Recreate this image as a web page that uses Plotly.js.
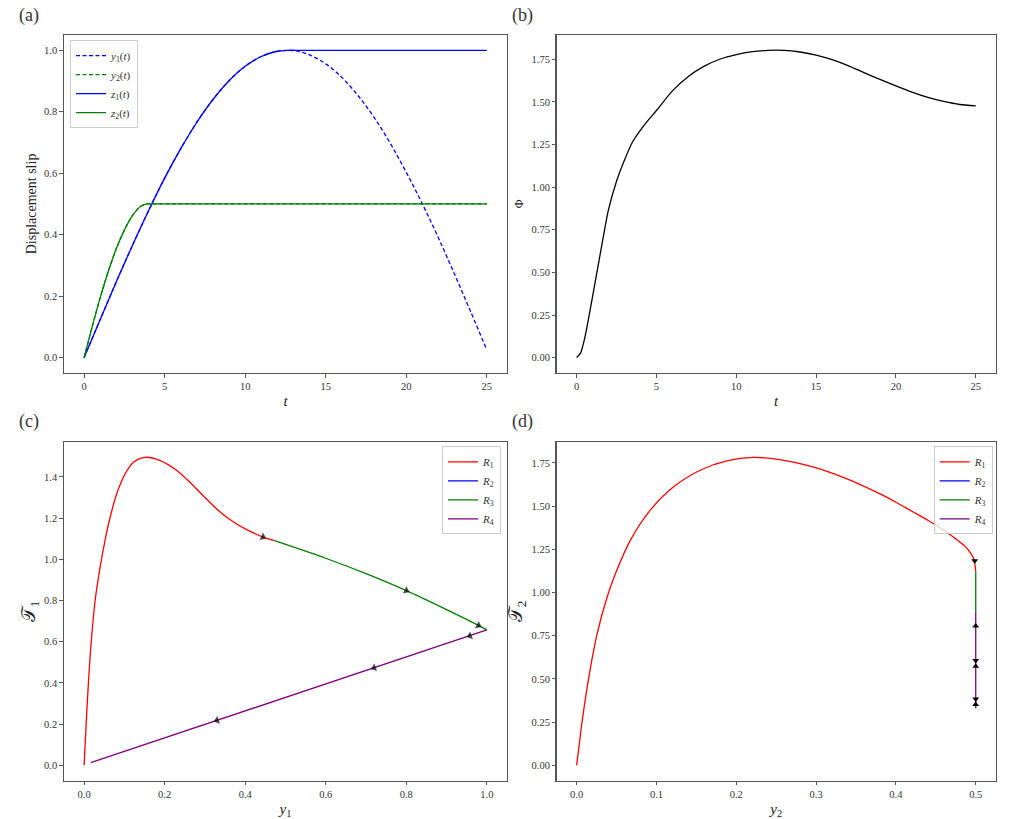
<!DOCTYPE html>
<html>
<head>
<meta charset="utf-8">
<script src="https://cdn.plot.ly/plotly-3.0.1.min.js"></script>
<style>html,body{margin:0;padding:0;background:#fff;}#chart{width:1025px;height:819px;}</style>
</head>
<body>
<div id="chart"></div>
<script>
// ---- Panel (a): displacement slip vs t ----
const tY1 = [0,1,2,3,4,5,6,7,8,9,10,11,12,13,14,15,16,17,18,19,20,21,22,23,24,25];
const y1 = [0,0.124,0.247,0.365,0.478,0.584,0.68,0.766,0.84,0.901,0.948,0.98,0.997,0.999,0.985,0.956,0.912,0.853,0.782,0.698,0.603,0.5,0.389,0.271,0.149,0.025];
const tZ1 = [0,1,2,3,4,5,6,7,8,9,10,11,12,12.6,13.5,25];
const z1 = [0,0.124,0.247,0.365,0.478,0.584,0.68,0.766,0.84,0.901,0.948,0.98,0.997,1.0,1.0,1.0];
const tY2 = [0,0.5,1,1.5,2,2.5,3,3.5,3.9,4.4,25];
const y2 = [0,0.1,0.195,0.28,0.355,0.415,0.462,0.492,0.5,0.5,0.5];
const tZ2 = [0,0.5,1,1.5,2,2.5,3,3.5,3.9,4.4,25];
const z2 = [0,0.1,0.195,0.28,0.355,0.415,0.462,0.492,0.5,0.5,0.5];

// ---- Panel (b): Phi vs t ----
const tPhi = [0,0.25,0.5,0.75,1,1.25,1.5,1.75,2,2.5,3,3.5,4,4.5,5,6,7,8,9,10,11,12,13,14,15,16,17,18,19,20,21,22,23,24,25];
const phi = [0,0.028,0.112,0.232,0.36,0.49,0.62,0.75,0.87,1.035,1.16,1.265,1.335,1.395,1.45,1.565,1.65,1.71,1.752,1.778,1.795,1.803,1.803,1.793,1.775,1.748,1.713,1.672,1.632,1.594,1.558,1.527,1.503,1.485,1.477];

// ---- Panel (c): T1 vs y1 ----
const cR1x = [0,0.0065,0.0149,0.0274,0.0398,0.052,0.0647,0.081,0.102,0.1226,0.1517,0.189,0.2303,0.255,0.28,0.305,0.33,0.355,0.38,0.405,0.444,0.473];
const cR1y = [0,0.252,0.526,0.80,0.962,1.092,1.204,1.318,1.415,1.471,1.495,1.479,1.431,1.388,1.340,1.290,1.243,1.203,1.170,1.143,1.108,1.090];
const cR2x = [null];
const cR2y = [null];
const cR3x = [0.473,0.55,0.6,0.7,0.8,0.9,0.95,1.0];
const cR3y = [1.090,1.039,1.005,0.930,0.848,0.756,0.708,0.657];
const cR4x = [1.0,0.0165];
const cR4y = [0.657,0.0126];
// arrow heads (tail, head pairs along the path)
const cArrowX = [0.405,0.444, 0.78,0.8, 0.95,0.979, 1.0,0.958, 0.76,0.72, 0.37,0.33];
const cArrowY = [1.143,1.108, 0.865,0.848, 0.708,0.679, 0.657,0.628, 0.499,0.473, 0.244,0.218];

// ---- Panel (d): T2 vs y2 ----
const dR1x = [0,0.0035,0.0071,0.0154,0.0258,0.0383,0.0487,0.0674,0.0923,0.1215,0.1547,0.188,0.2213,0.2546,0.296,0.338,0.379,0.40,0.42,0.44,0.46,0.475,0.487,0.494,0.498,0.5];
const dR1y = [0,0.13,0.262,0.513,0.763,0.975,1.11,1.303,1.476,1.611,1.707,1.761,1.781,1.769,1.727,1.659,1.573,1.522,1.47,1.418,1.36,1.31,1.265,1.225,1.19,1.12];
const dR2x = [null];
const dR2y = [null];
const dR3x = [0.5,0.5];
const dR3y = [1.12,0.888];
const dR4x = [0.5,0.5];
const dR4y = [0.888,0.33];
const dArrowX = [0.4987,0.5,0.5,0.5,0.5,0.5];
const dArrowY = [1.183,0.806,0.607,0.573,0.383,0.351];
const dArrowDir = ['triangle-down','triangle-up','triangle-down','triangle-up','triangle-down','triangle-up'];

const FONT = 'Liberation Serif, DejaVu Serif, serif';
const DASH = '4px,2.5px';

const traces = [
  {x:tY1, y:y1, name:'<i>y</i><sub>1</sub>(<i>t</i>)', mode:'lines', line:{color:'#0000ff', dash:DASH, width:1.3, shape:'spline'}, xaxis:'x', yaxis:'y', legend:'legend'},
  {x:tY2, y:y2, name:'<i>y</i><sub>2</sub>(<i>t</i>)', mode:'lines', line:{color:'#008000', dash:DASH, width:1.3, shape:'spline', smoothing:0.8}, xaxis:'x', yaxis:'y', legend:'legend'},
  {x:tZ1, y:z1, name:'<i>z</i><sub>1</sub>(<i>t</i>)', mode:'lines', line:{color:'#0000ff', width:1.3, shape:'spline', smoothing:0.8}, xaxis:'x', yaxis:'y', legend:'legend'},
  {x:tZ2, y:z2, name:'<i>z</i><sub>2</sub>(<i>t</i>)', mode:'lines', line:{color:'#008000', width:1.3, shape:'spline', smoothing:0.8}, xaxis:'x', yaxis:'y', legend:'legend'},

  {x:tPhi, y:phi, name:'Φ', mode:'lines', line:{color:'#000000', width:1.3, shape:'spline', smoothing:0.7}, xaxis:'x2', yaxis:'y2', showlegend:false},

  {x:cR1x, y:cR1y, name:'<i>R</i><sub>1</sub>', mode:'lines', line:{color:'#ff0000', width:1.3, shape:'spline', smoothing:0.8}, xaxis:'x3', yaxis:'y3', legend:'legend2'},
  {x:cR2x, y:cR2y, name:'<i>R</i><sub>2</sub>', mode:'lines', line:{color:'#0000ff', width:1.3}, xaxis:'x3', yaxis:'y3', legend:'legend2'},
  {x:cR3x, y:cR3y, name:'<i>R</i><sub>3</sub>', mode:'lines', line:{color:'#008000', width:1.3, shape:'spline', smoothing:0.8}, xaxis:'x3', yaxis:'y3', legend:'legend2'},
  {x:cR4x, y:cR4y, name:'<i>R</i><sub>4</sub>', mode:'lines', line:{color:'#800080', width:1.3}, xaxis:'x3', yaxis:'y3', legend:'legend2'},
  {x:cArrowX, y:cArrowY, mode:'markers', marker:{symbol:'triangle-up', angleref:'previous', color:'#000000', size:cArrowX.map((v,i)=> i%2 ? 7 : 0), line:{width:0}}, xaxis:'x3', yaxis:'y3', showlegend:false, hoverinfo:'skip'},

  {x:dR1x, y:dR1y, name:'<i>R</i><sub>1</sub>', mode:'lines', line:{color:'#ff0000', width:1.3, shape:'spline', smoothing:0.8}, xaxis:'x4', yaxis:'y4', legend:'legend3'},
  {x:dR2x, y:dR2y, name:'<i>R</i><sub>2</sub>', mode:'lines', line:{color:'#0000ff', width:1.3}, xaxis:'x4', yaxis:'y4', legend:'legend3'},
  {x:dR3x, y:dR3y, name:'<i>R</i><sub>3</sub>', mode:'lines', line:{color:'#008000', width:1.3}, xaxis:'x4', yaxis:'y4', legend:'legend3'},
  {x:dR4x, y:dR4y, name:'<i>R</i><sub>4</sub>', mode:'lines', line:{color:'#800080', width:1.3}, xaxis:'x4', yaxis:'y4', legend:'legend3'},
  {x:dArrowX, y:dArrowY, mode:'markers', marker:{symbol:dArrowDir, color:'#000000', size:6, line:{width:0}}, xaxis:'x4', yaxis:'y4', showlegend:false, hoverinfo:'skip'}
];

const tickFont = {family:FONT, size:10.5, color:'#333'};
const titleFont = {family:FONT, size:15, color:'#222'};
function ax(anchor, domain, range, dtick, fmt, title, standoff, tfont) {
  return {
    anchor:anchor, domain:domain, range:range, autorange:false, dtick:dtick, tick0:0, tickformat:fmt,
    showgrid:false, zeroline:false, showline:true, mirror:true, linecolor:'#555', linewidth:1.2,
    ticks:'outside', ticklen:3.5, tickwidth:1, tickcolor:'#555', tickfont:tickFont,
    title:{text:title, font:tfont || titleFont, standoff:standoff}, automargin:false, fixedrange:true
  };
}
const xdL = [0.0624, 0.4946], xdR = [0.5431, 0.9714];
const ydT = [0.5446, 0.9573], ydB = [0.0468, 0.46];

const legendCommon = {bgcolor:'rgba(255,255,255,0.8)', bordercolor:'#cccccc', borderwidth:1,
  font:{family:FONT, size:11, color:'#333'}, tracegroupgap:0};

const layout = {
  width:1025, height:819, margin:{l:0, r:0, t:0, b:0},
  paper_bgcolor:'#ffffff', plot_bgcolor:'#ffffff',
  font:{family:FONT, color:'#222'},
  showlegend:true,
  xaxis: ax('y', xdL, [-1.25, 26.25], 5, 'd', '<i>t</i>', 4),
  yaxis: ax('x', ydT, [-0.05, 1.05], 0.2, '.1f', 'Displacement slip', 4, {family:FONT, size:14, color:'#222'}),
  xaxis2: ax('y2', xdR, [-1.25, 26.25], 5, 'd', '<i>t</i>', 4),
  yaxis2: ax('x2', ydT, [-0.09, 1.893], 0.25, '.2f', 'Φ', 5, {family:FONT, size:12, color:'#222'}),
  xaxis3: ax('y3', xdL, [-0.05, 1.05], 0.2, '.1f', '<i>y</i><sub>1</sub>', 4),
  yaxis3: ax('x3', ydB, [-0.0747, 1.568], 0.2, '.1f', '𝒯<sub>1</sub>', 3, {family:FONT, size:19, color:'#222'}),
  xaxis4: ax('y4', xdR, [-0.025, 0.525], 0.1, '.1f', '<i>y</i><sub>2</sub>', 4),
  yaxis4: ax('x4', ydB, [-0.089, 1.869], 0.25, '.2f', '𝒯<sub>2</sub>', 3, {family:FONT, size:19, color:'#222'}),
  legend: Object.assign({x:0.0683, y:0.951, xanchor:'left', yanchor:'top'}, legendCommon),
  legend2: Object.assign({x:0.4888, y:0.455, xanchor:'right', yanchor:'top'}, legendCommon),
  legend3: Object.assign({x:0.9685, y:0.455, xanchor:'right', yanchor:'top'}, legendCommon),
  annotations: [
    {text:'(a)', x:29, y:15},
    {text:'(b)', x:522, y:15},
    {text:'(c)', x:29, y:422},
    {text:'(d)', x:522, y:422}
  ].map(a => ({text:a.text, xref:'paper', yref:'paper', x:a.x/1025, y:1 - a.y/819,
    xanchor:'center', yanchor:'middle', showarrow:false, font:{family:FONT, size:18, color:'#333'}}))
};

Plotly.newPlot('chart', traces, layout, {staticPlot:true, displayModeBar:false});
</script>
</body>
</html>
